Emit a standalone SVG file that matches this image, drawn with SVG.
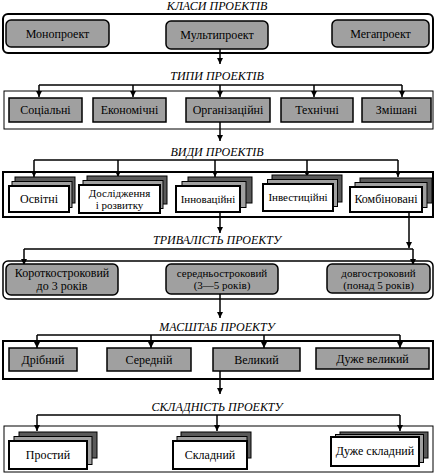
<svg xmlns="http://www.w3.org/2000/svg" width="440" height="476" viewBox="0 0 440 476">
<style>
text{font-family:'Liberation Serif','DejaVu Serif',serif;font-size:12px;text-anchor:middle;fill:#000}
.t{font-style:italic}
.s{font-size:11px}
.outer{fill:#fff;stroke:#000}
.g{fill:#a0a0a0;stroke:#000;stroke-width:1.5}
.back{fill:#5a5a5a;stroke:#000;stroke-width:1}
.mid{fill:#a0a0a0;stroke:#000;stroke-width:1}
.front{fill:#fff;stroke:#000;stroke-width:2}
.c{fill:none;stroke:#000;stroke-width:1.5}
</style>
<defs>
<marker id="a" markerUnits="userSpaceOnUse" markerWidth="7" markerHeight="7" refX="6" refY="3" orient="auto">
<path d="M0,0 L6,3 L0,6 z" fill="#000"/>
</marker>
</defs>

<!-- Section titles -->
<text class="t" x="217" y="10">КЛАСИ ПРОЕКТІВ</text>
<text class="t" x="217" y="80">ТИПИ ПРОЕКТІВ</text>
<text class="t" x="217" y="156">ВИДИ ПРОЕКТІВ</text>
<text class="t" x="217" y="244">ТРИВАЛІСТЬ ПРОЕКТУ</text>
<text class="t" x="217" y="331">МАСШТАБ ПРОЕКТУ</text>
<text class="t" x="217" y="411">СКЛАДНІСТЬ ПРОЕКТУ</text>

<!-- Outer containers -->
<rect class="outer" x="3" y="14" width="430" height="39" rx="5" stroke-width="2"/>
<rect class="outer" x="4" y="91" width="429" height="38" stroke-width="1"/>
<rect class="outer" x="3" y="172" width="430" height="45" stroke-width="2"/>
<rect class="outer" x="3" y="261" width="430" height="38" rx="5" stroke-width="1.5"/>
<rect class="outer" x="3" y="341" width="430" height="38" stroke-width="2"/>
<rect class="outer" x="4" y="426" width="429" height="46" stroke-width="1"/>

<!-- Connectors -->
<g id="connectors">
<line class="c" x1="220" y1="49" x2="220" y2="64" marker-end="url(#a)"/>

<line class="c" x1="39" y1="85" x2="402" y2="85"/>
<line class="c" x1="39" y1="85" x2="39" y2="97" marker-end="url(#a)"/>
<line class="c" x1="133" y1="85" x2="133" y2="97" marker-end="url(#a)"/>
<line class="c" x1="220" y1="85" x2="220" y2="97" marker-end="url(#a)"/>
<line class="c" x1="314" y1="85" x2="314" y2="97" marker-end="url(#a)"/>
<line class="c" x1="402" y1="85" x2="402" y2="97" marker-end="url(#a)"/>
<line class="c" x1="220" y1="122" x2="220" y2="141" marker-end="url(#a)"/>

<line class="c" x1="34" y1="160" x2="398" y2="160"/>
<line class="c" x1="34" y1="160" x2="34" y2="177" marker-end="url(#a)"/>
<line class="c" x1="118" y1="160" x2="118" y2="177" marker-end="url(#a)"/>
<line class="c" x1="215" y1="160" x2="215" y2="177" marker-end="url(#a)"/>
<line class="c" x1="307" y1="160" x2="307" y2="177" marker-end="url(#a)"/>
<line class="c" x1="398" y1="160" x2="398" y2="177" marker-end="url(#a)"/>
<line class="c" x1="220" y1="212" x2="220" y2="233" marker-end="url(#a)"/>
<line class="c" x1="409" y1="212" x2="409" y2="248" marker-end="url(#a)"/>

<line class="c" x1="24" y1="249" x2="413" y2="249" stroke-width="2"/>
<line class="c" x1="24" y1="249" x2="24" y2="265" marker-end="url(#a)"/>
<line class="c" x1="413" y1="249" x2="413" y2="265" marker-end="url(#a)"/>
<line class="c" x1="220" y1="294" x2="220" y2="318" marker-end="url(#a)"/>

<line class="c" x1="37" y1="335" x2="400" y2="335" stroke-width="2"/>
<line class="c" x1="37" y1="335" x2="37" y2="348" marker-end="url(#a)"/>
<line class="c" x1="151" y1="335" x2="151" y2="348" marker-end="url(#a)"/>
<line class="c" x1="264" y1="335" x2="264" y2="348" marker-end="url(#a)"/>
<line class="c" x1="400" y1="335" x2="400" y2="348" marker-end="url(#a)"/>
<line class="c" x1="220" y1="371" x2="220" y2="394" marker-end="url(#a)"/>

<line class="c" x1="37" y1="415" x2="400" y2="415"/>
<line class="c" x1="37" y1="415" x2="37" y2="431" marker-end="url(#a)"/>
<line class="c" x1="217" y1="415" x2="217" y2="431" marker-end="url(#a)"/>
<line class="c" x1="400" y1="415" x2="400" y2="431" marker-end="url(#a)"/>
</g>

<!-- Section 1 -->
<g id="monoproekt"><rect class="g" x="6" y="20" width="103" height="27" rx="5"/><text x="57.5" y="38">Монопроект</text></g>
<g id="multiproekt"><rect class="g" x="166" y="21" width="102" height="28" rx="5"/><text x="217" y="39">Мультипроект</text></g>
<g id="megaproekt"><rect class="g" x="332" y="20" width="97" height="27" rx="5"/><text x="380.5" y="38">Мегапроект</text></g>

<!-- Section 2 -->
<g id="sotsialni"><rect class="g" x="9" y="98" width="73" height="24"/><text x="45.5" y="114">Соціальні</text></g>
<g id="ekonomichni"><rect class="g" x="93" y="98" width="73" height="24"/><text x="129.5" y="114">Економічні</text></g>
<g id="orhanizatsiini"><rect class="g" x="186" y="98" width="84" height="24" stroke-width="2"/><text x="228" y="114">Організаційні</text></g>
<g id="tekhnichni"><rect class="g" x="281" y="98" width="72" height="24"/><text x="317" y="114">Технічні</text></g>
<g id="zmishani"><rect class="g" x="362" y="98" width="69" height="24"/><text x="396.5" y="114">Змішані</text></g>

<!-- Section 3 -->
<g id="osvitni">
<rect class="back" x="15" y="177" width="60" height="26"/><rect class="mid" x="12" y="181.5" width="60" height="26"/><rect class="front" x="9" y="186" width="60" height="26"/>
<text x="39" y="203">Освітні</text></g>
<g id="doslidzhennia">
<rect class="back" x="87" y="176" width="80" height="28"/><rect class="mid" x="83" y="180.5" width="80" height="28"/><rect class="front" x="79" y="185" width="81" height="28"/>
<text class="s" x="119.5" y="197">Дослідження</text><text class="s" x="119.5" y="209">і розвитку</text></g>
<g id="innovatsiini">
<rect class="back" x="188" y="177" width="64" height="26"/><rect class="mid" x="182" y="181.5" width="64" height="26"/><rect class="front" x="176" y="186" width="64" height="26"/>
<text class="s" x="208" y="203">Інноваційні</text></g>
<g id="investytsiini">
<rect class="back" x="272" y="175" width="70" height="27"/><rect class="mid" x="267.5" y="179.5" width="70" height="27"/><rect class="front" x="263" y="184" width="70" height="27"/>
<text class="s" x="298" y="201">Інвестиційні</text></g>
<g id="kombinovani">
<rect class="back" x="360" y="178" width="72" height="25"/><rect class="mid" x="355" y="182.5" width="72" height="25"/><rect class="front" x="350" y="187" width="72" height="25"/>
<text x="386" y="203">Комбіновані</text></g>

<!-- Section 4 -->
<g id="korotkostrokovyi"><rect class="g" x="6" y="264" width="112" height="31" rx="5"/><text x="62" y="277">Короткостроковий</text><text x="62" y="290">до 3 років</text></g>
<g id="serednostrokovyi"><rect class="g" x="166" y="264" width="112" height="30" rx="5"/><text class="s" x="222" y="277">середньостроковий</text><text class="s" x="222" y="289">(3—5 років)</text></g>
<g id="dovhostrokovyi"><rect class="g" x="327" y="264" width="103" height="29" rx="5"/><text class="s" x="378.5" y="277">довгостроковий</text><text class="s" x="378.5" y="289">(понад 5 років)</text></g>

<!-- Section 5 -->
<g id="dribnyi"><rect class="g" x="9" y="348" width="68" height="23"/><text x="43" y="364">Дрібний</text></g>
<g id="serednii"><rect class="g" x="107" y="348" width="84" height="23"/><text x="149" y="364">Середній</text></g>
<g id="velykyi"><rect class="g" x="213" y="348" width="87" height="23"/><text x="256.5" y="364">Великий</text></g>
<g id="duzhe-velykyi"><rect class="g" x="316" y="348" width="113" height="21"/><text x="372.5" y="363">Дуже великий</text></g>

<!-- Section 6 -->
<g id="prostyi">
<rect class="back" x="19" y="432" width="78" height="26"/><rect class="mid" x="14" y="436.5" width="78" height="28"/><rect class="front" x="9" y="441" width="78" height="28"/>
<text x="48" y="459">Простий</text></g>
<g id="skladnyi">
<rect class="back" x="181" y="432" width="70" height="26"/><rect class="mid" x="177" y="436.5" width="70" height="28"/><rect class="front" x="173" y="441" width="74" height="28"/>
<text x="210" y="459">Складний</text></g>
<g id="duzhe-skladnyi">
<rect class="back" x="340" y="432" width="88" height="26"/><rect class="mid" x="335.5" y="434.5" width="88" height="28"/><rect class="front" x="331" y="437" width="88" height="29"/>
<text x="375" y="455">Дуже складний</text></g>
</svg>
